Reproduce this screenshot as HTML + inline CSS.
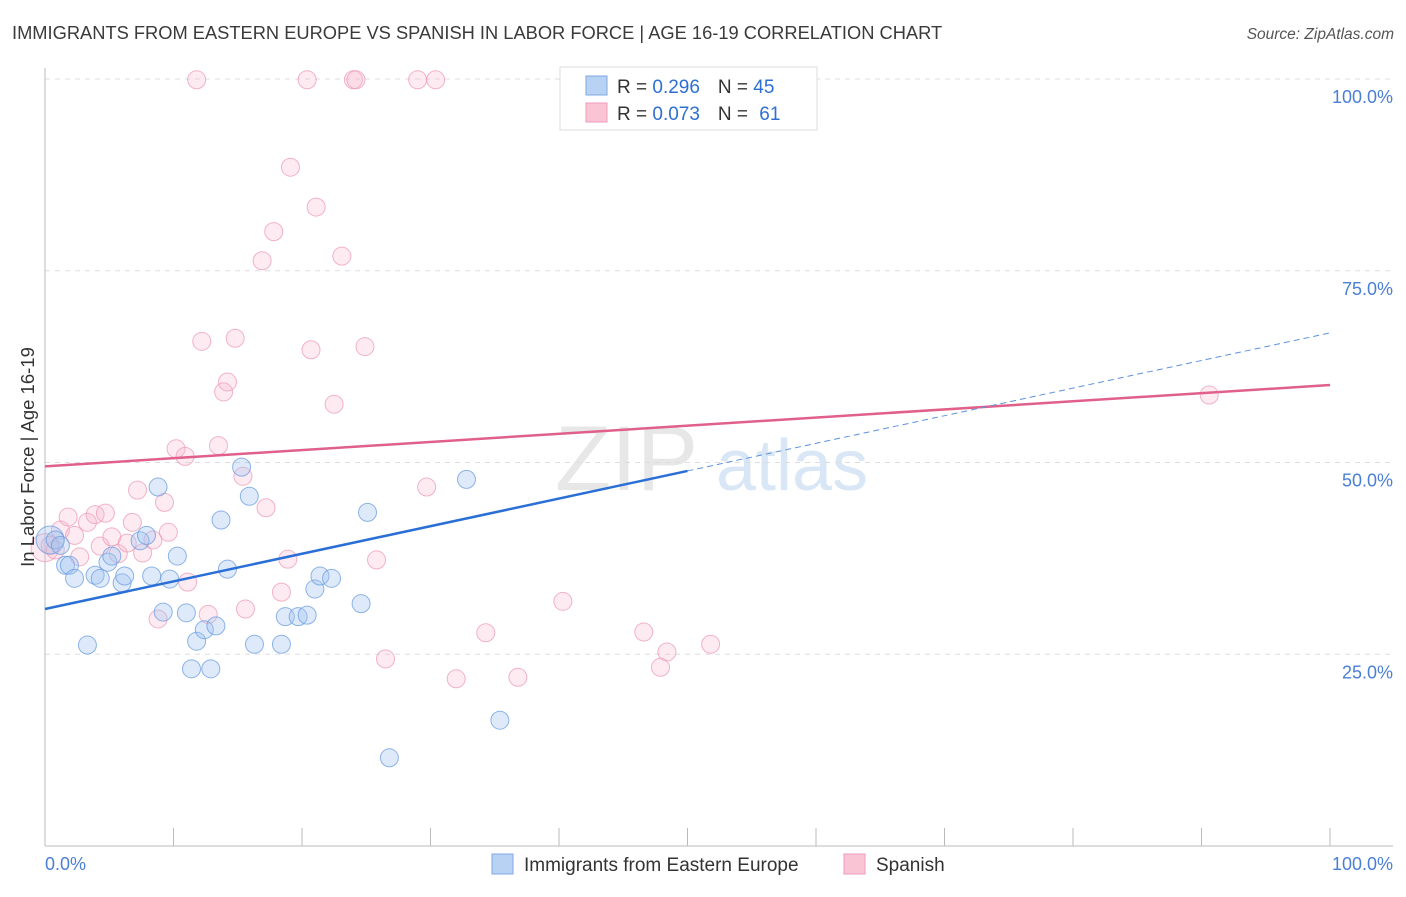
<!DOCTYPE html>
<html><head><meta charset="utf-8"><style>
body{margin:0;background:#fff;font-family:"Liberation Sans",sans-serif}
svg text{font-family:"Liberation Sans",sans-serif}
</style></head><body>
<svg id="chart" width="1406" height="892" xmlns="http://www.w3.org/2000/svg">
<text x="12" y="39" font-size="18.3" fill="#3a3a3a">IMMIGRANTS FROM EASTERN EUROPE VS SPANISH IN LABOR FORCE | AGE 16-19 CORRELATION CHART</text>
<text x="1394" y="39" font-size="15.5" fill="#555" text-anchor="end" font-style="italic">Source: ZipAtlas.com</text>
<g><text x="555" y="490" font-size="92" fill="#ddd" font-family="Liberation Serif" opacity="0.7">ZIP</text><text x="716" y="490" font-size="72" fill="#c8dcf2" opacity="0.7">atlas</text></g>
<g id="grid"></g><g id="axes"></g><g id="pts"></g><g id="trend"></g>
<text transform="translate(34,457) rotate(-90)" font-size="18.5" fill="#333" text-anchor="middle">In Labor Force | Age 16-19</text>
<g>
<rect x="560" y="67" width="257" height="63" fill="#fff" stroke="#ddd"/>
<rect x="586" y="76" width="21" height="19" fill="#b8d2f4" stroke="#7fa8e0"/>
<rect x="586" y="103" width="21" height="19" fill="#f9c4d3" stroke="#ee9bb4"/>
<text x="617" y="93" font-size="19" fill="#333">R = <tspan fill="#2d6fd2">0.296</tspan><tspan dx="18">N = </tspan><tspan fill="#2d6fd2">45</tspan></text>
<text x="617" y="120" font-size="19" fill="#333">R = <tspan fill="#2d6fd2">0.073</tspan><tspan dx="18">N = </tspan><tspan fill="#2d6fd2" dx="6">61</tspan></text>
</g>
<g>
<rect x="492" y="854" width="21" height="20" fill="#b8d2f4" stroke="#7fa8e0"/>
<text x="524" y="871" font-size="19" fill="#333">Immigrants from Eastern Europe</text>
<rect x="844" y="854" width="21" height="20" fill="#f9c4d3" stroke="#ee9bb4"/>
<text x="876" y="871" font-size="19" fill="#333">Spanish</text>
</g>
</svg>
<script>
const blueX=[0.4,0.8,1.2,1.6,1.9,2.3,3.3,3.9,4.3,4.9,5.2,6.0,6.2,7.4,7.9,8.3,8.8,9.2,9.7,10.3,11.0,11.4,11.8,12.4,12.9,13.3,13.7,14.2,15.3,15.9,16.3,18.4,18.7,19.7,20.4,21.0,21.4,22.3,24.6,25.1,26.8,32.8,35.4,50.2,51.0];
const blueY=[39.9,39.9,39.2,36.6,36.6,34.9,26.2,35.3,34.9,37.0,37.8,34.3,35.2,39.8,40.5,35.2,46.8,30.5,34.8,37.8,30.4,23.1,26.7,28.2,23.1,28.7,42.5,36.1,49.4,45.6,26.3,26.3,29.9,29.9,30.1,33.5,35.2,34.9,31.6,43.5,11.5,47.8,16.4,99.9,99.9];
const pinkX=[0.0,0.4,0.8,1.2,1.8,2.3,2.7,3.3,3.9,4.3,4.7,5.2,5.7,6.4,6.8,7.2,7.6,8.4,8.8,9.3,9.6,10.2,10.9,11.1,11.8,12.2,12.7,13.5,13.9,14.2,14.8,15.4,15.6,16.9,17.2,17.8,18.4,18.9,19.1,20.4,20.7,21.1,22.5,23.1,24.0,24.2,24.9,25.8,26.5,29.0,29.7,30.4,32.0,34.3,36.8,40.3,46.6,47.9,48.4,51.8,90.6];
const pinkY=[38.9,39.2,38.6,41.2,42.9,40.5,37.7,42.2,43.2,39.1,43.4,40.3,38.1,39.5,42.2,46.4,38.2,39.9,29.6,44.8,40.9,51.8,50.8,34.4,99.9,65.8,30.2,52.2,59.2,60.5,66.2,48.2,30.9,76.3,44.1,80.1,33.1,37.4,88.5,99.9,64.7,83.3,57.6,76.9,99.9,99.9,65.1,37.3,24.4,99.9,46.8,99.9,21.8,27.8,22.0,31.9,27.9,23.3,25.3,26.3,58.8];
const blueTrend=[30.9,66.9];
const pinkTrend=[49.5,60.1];
const yTicks=[25,50,75,100];
const yTickLabels=["25.0%","50.0%","75.0%","100.0%"];
const NS="http://www.w3.org/2000/svg";
const X=v=>45+v*12.85, Y=v=>846-v*7.67;
function mk(tag,parent,attrs){const e=document.createElementNS(NS,tag);for(const k in attrs)e.setAttribute(k,attrs[k]);document.getElementById(parent).appendChild(e);return e;}
yTicks.forEach((t,i)=>{
 const l=mk('line','grid',{x1:45,x2:1393,y1:Y(t),y2:Y(t),stroke:'#ddd','stroke-dasharray':'5,5'});
 
 
 const tx=mk('text','grid',{x:1393,y:Y(t)+24,'font-size':18,fill:'#4a7fd6','text-anchor':'end'});
 tx.textContent=yTickLabels[i];
 
 
});
let a=mk('line','axes',{x1:45,x2:45,y1:68,y2:846,stroke:'#bbb'});

a=mk('line','axes',{x1:45,x2:1393,y1:846,y2:846,stroke:'#bbb'});

for(let i=1;i<=10;i++){const t=mk('line','axes',{x1:X(i*10),x2:X(i*10),y1:828,y2:846,stroke:'#bbb'});
 
 }
let xl=mk('text','axes',{x:45,y:870,'font-size':18,fill:'#4a7fd6'});xl.textContent='0.0%';

xl=mk('text','axes',{x:1393,y:870,'font-size':18,fill:'#4a7fd6','text-anchor':'end'});xl.textContent='100.0%';

function pts(xs,ys,fill,stroke,name){xs.forEach((x,i)=>{
 const c=mk('circle','pts',{cx:X(x),cy:Y(ys[i]),r:(i===0?14:9),fill:fill,stroke:stroke,'stroke-width':1,'stroke-opacity':0.75});
 
 });}
pts(pinkX,pinkY,'rgba(246,175,198,0.25)','#ee9bb6','spanish-point');
pts(blueX,blueY,'rgba(160,196,242,0.35)','#6a9ce0','eastern-europe-point');
let t=mk('line','trend',{x1:X(0),y1:Y(pinkTrend[0]),x2:X(100),y2:Y(pinkTrend[1]),stroke:'#e0608a','stroke-width':2.5});

const bm=(blueTrend[0]+blueTrend[1])/2;
t=mk('line','trend',{x1:X(0),y1:Y(blueTrend[0]),x2:X(50),y2:Y(bm),stroke:'#2a6fd6','stroke-width':2.5});

t=mk('line','trend',{x1:X(50),y1:Y(bm),x2:X(100),y2:Y(blueTrend[1]),stroke:'#5d92de','stroke-width':1,'stroke-dasharray':'6,4'});

</script>
</body></html>
